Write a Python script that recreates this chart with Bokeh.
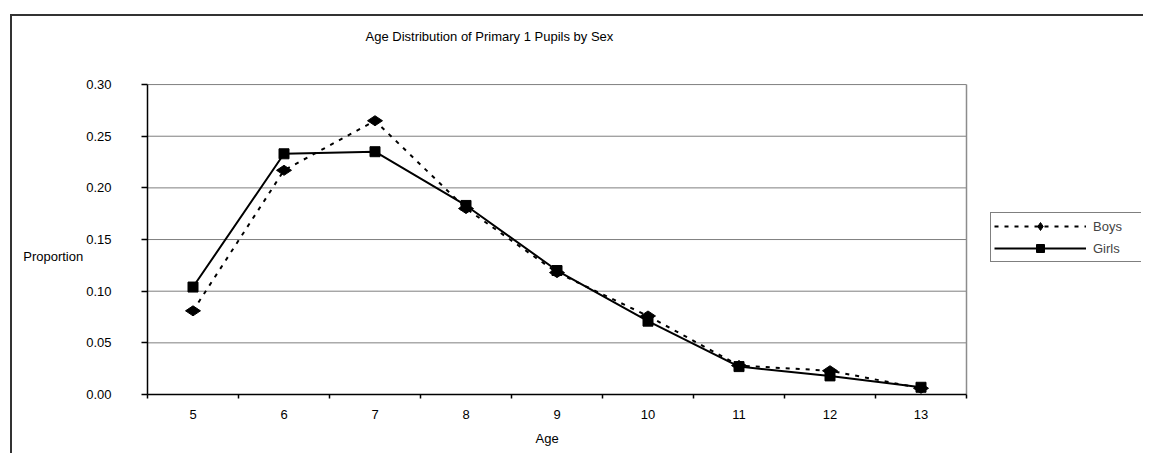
import numpy as np
from bokeh.plotting import figure
from bokeh.models import (Range1d, FixedTicker, NumeralTickFormatter, Legend, LegendItem, Title)
from bokeh.embed import file_html
from bokeh.resources import INLINE

ages = [5, 6, 7, 8, 9, 10, 11, 12, 13]
boys = [0.081, 0.217, 0.265, 0.180, 0.118, 0.076, 0.028, 0.023, 0.006]
girls = [0.104, 0.233, 0.235, 0.183, 0.120, 0.071, 0.027, 0.018, 0.007]
y_ticks = [0.00, 0.05, 0.10, 0.15, 0.20, 0.25, 0.30]
title_text = "Age Distribution of Primary 1 Pupils by Sex"
x_title = "Age"
y_title = "Proportion"

FONT = "Liberation Sans"
FS = "13px"

x_lo, x_hi = ages[0] - 0.5, ages[-1] + 0.5      # category band edges
y_lo, y_hi = y_ticks[0], y_ticks[-1]
PX_PER_AGE = 91.0
FRAME_W = 994  # frame spans plot area plus the legend strip on its right

p = figure(width=1133, height=439, output_backend="svg", toolbar_location=None,
           x_range=Range1d(x_lo, x_lo + FRAME_W / PX_PER_AGE),
           y_range=Range1d(y_lo, y_hi + 0.002),
           min_border_left=135, min_border_right=4, min_border_top=66,
           min_border_bottom=61)
p.margin = (16, 0, 0, 12)
p.styles = {"box-shadow": "-2px -2px 0 0 #333333"}
p.outline_line_color = None
p.background_fill_color = "white"
p.border_fill_color = "white"

# title (trailing blank lines lift it inside the top panel)
p.title.text = title_text + "\n\n"
p.title.text_font = FONT
p.title.text_font_size = FS
p.title.text_font_style = "normal"
p.title.text_color = "black"
p.title.align = "left"
p.title.offset = 218
p.title.standoff = 17

# axes
p.xaxis.bounds = (x_lo, x_hi)
p.xaxis.ticker = FixedTicker(ticks=ages, minor_ticks=[a - 0.5 for a in ages] + [x_hi])
p.xaxis.major_tick_line_color = None
p.xaxis.major_tick_out = 4
p.xaxis.major_tick_in = 0
p.xaxis.minor_tick_line_color = "black"
p.xaxis.minor_tick_out = 4
p.xaxis.minor_tick_in = 0
p.xaxis.minor_tick_line_width = 1.5
p.xaxis.major_label_standoff = 11
p.yaxis.bounds = (y_lo, y_hi)
p.yaxis.ticker = FixedTicker(ticks=y_ticks, minor_ticks=[])
p.yaxis.formatter = NumeralTickFormatter(format="0.00")
p.yaxis.major_tick_out = 6
p.yaxis.major_tick_in = 0
p.yaxis.major_tick_line_width = 1.5
p.yaxis.minor_tick_line_color = None
p.yaxis.major_label_standoff = 30
p.yaxis.axis_label = "\n\n" + y_title
p.yaxis.axis_label_standoff = 0
try:
    p.yaxis.axis_label_orientation = "horizontal"
except Exception:
    p.yaxis.axis_label = y_title
for ax in (p.xaxis, p.yaxis):
    ax.axis_line_color = "black"
    ax.axis_line_width = 1.5
    ax.major_label_text_font = FONT
    ax.major_label_text_font_size = FS
    ax.major_label_text_color = "black"
    ax.axis_label_text_font = FONT
    ax.axis_label_text_font_size = FS
    ax.axis_label_text_font_style = "normal"
    ax.axis_label_text_color = "black"

# x-axis title, placed under the age bands (not under the whole frame)
p.add_layout(Title(text=x_title, text_font=FONT, text_font_size=FS,
                   text_font_style="normal", text_color="black",
                   align="left", offset=388, standoff=14), "below")

p.xgrid.grid_line_color = None
p.ygrid.grid_line_color = None

# horizontal gridlines and right edge of the plot area, limited to the age bands
p.segment(x0=[x_lo] * len(y_ticks[1:]), x1=[x_hi] * len(y_ticks[1:]),
          y0=y_ticks[1:], y1=y_ticks[1:], line_color="#7f7f7f", line_width=1)
p.segment(x0=[x_hi], x1=[x_hi], y0=[y_lo], y1=[y_hi], line_color="#8c8c8c", line_width=1.5)

# series
bl = p.line(ages, boys, line_color="black", line_width=2, line_dash="4 6")
bs = p.scatter(ages, boys, marker="diamond", size=15, angle=np.pi / 2,
               fill_color="black", line_color="black")
gl = p.line(ages, girls, line_color="black", line_width=2)
gs = p.scatter(ages, girls, marker="square", size=10, fill_color="black", line_color="black")

legend = Legend(items=[LegendItem(label="Boys", renderers=[bl, bs]),
                       LegendItem(label="Girls", renderers=[gl, gs])],
                location=(843, 132), padding=3, spacing=2, glyph_width=92,
                glyph_height=20, label_height=20, label_width=45, label_standoff=7,
                border_line_color="black", border_line_width=1,
                background_fill_color="white", background_fill_alpha=1,
                label_text_font=FONT, label_text_font_size=FS, margin=0)
p.add_layout(legend)

open("out.html", "w").write(file_html(p, INLINE))
